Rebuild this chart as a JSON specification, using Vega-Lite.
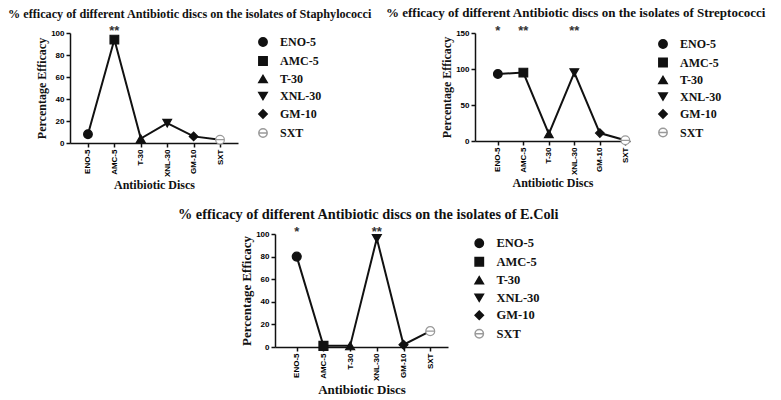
{
  "$schema": "https://vega.github.io/schema/vega-lite/v6.json",
  "padding": {"left": 8, "top": 7, "right": 5, "bottom": 5},
  "background": "white",
  "config": {
    "view": {"stroke": null},
    "axis": {
      "labelFont": "Liberation Sans", "labelFontWeight": "bold", "labelFontSize": 8, "labelColor": "#000",
      "titleFont": "Liberation Serif", "titleFontWeight": "bold", "titleFontSize": 12, "titleColor": "#111",
      "domainColor": "#111", "domainWidth": 1.5, "tickColor": "#111", "tickWidth": 1.5, "tickSize": 4,
      "grid": false, "labelPadding": 2
    },
    "axisY": {"labelOverlap": false, "labelBound": false, "labelFlush": false},
    "legend": {
      "labelFont": "Liberation Serif", "labelFontWeight": "bold", "labelFontSize": 12, "labelColor": "#111",
      "symbolSize": 70, "rowPadding": 3, "labelOffset": 11, "padding": 3, "orient": "right"
    },
    "title": {"font": "Liberation Serif", "fontWeight": "bold", "color": "#111", "anchor": "start", "frame": "group"}
  },
  "datasets": {
    "staph": [
      {"disc": "ENO-5", "efficacy": 8, "sig": null},
      {"disc": "AMC-5", "efficacy": 94, "sig": "**"},
      {"disc": "T-30", "efficacy": 4, "sig": null},
      {"disc": "XNL-30", "efficacy": 18, "sig": null},
      {"disc": "GM-10", "efficacy": 6, "sig": null},
      {"disc": "SXT", "efficacy": 3, "sig": null}
    ],
    "strep": [
      {"disc": "ENO-5", "efficacy": 93, "sig": "*"},
      {"disc": "AMC-5", "efficacy": 95, "sig": "**"},
      {"disc": "T-30", "efficacy": 10, "sig": null},
      {"disc": "XNL-30", "efficacy": 95, "sig": "**"},
      {"disc": "GM-10", "efficacy": 11, "sig": null},
      {"disc": "SXT", "efficacy": 1, "sig": null}
    ],
    "ecoli": [
      {"disc": "ENO-5", "efficacy": 80, "sig": "*"},
      {"disc": "AMC-5", "efficacy": 1, "sig": null},
      {"disc": "T-30", "efficacy": 1, "sig": null},
      {"disc": "XNL-30", "efficacy": 96, "sig": "**"},
      {"disc": "GM-10", "efficacy": 2, "sig": null},
      {"disc": "SXT", "efficacy": 14, "sig": null}
    ]
  },
  "vconcat": [
    {
      "hconcat": [
        {
          "width": 168, "height": 110,
          "data": {"name": "staph"},
          "title": {"text": "% efficacy of different Antibiotic discs on the isolates of Staphylococci", "dx": -62, "fontSize": 12.2, "offset": 5},
          "encoding": {
            "x": {"field": "disc", "type": "nominal", "sort": null,
              "scale": {"type": "point", "domain": ["ENO-5", "AMC-5", "T-30", "XNL-30", "GM-10", "SXT"], "padding": 0.68, "align": 0.5},
              "axis": {"title": "Antibiotic Discs", "labelAngle": -90, "titlePadding": 3}}
          },
          "layer": [
            {"mark": {"type": "line", "color": "#111", "strokeWidth": 2},
             "encoding": {
               "y": {"field": "efficacy", "type": "quantitative", "scale": {"domain": [0, 100], "nice": false},
                 "axis": {"title": "Percentage Efficacy", "values": [0, 20, 40, 60, 80, 100], "titlePadding": 2, "labelOverlap": false}},
               "order": {"value": null}}},
            {"mark": {"type": "point", "size": 75, "opacity": 1, "strokeWidth": 1.2},
             "encoding": {
               "y": {"field": "efficacy", "type": "quantitative", "axis": {"title": "Percentage Efficacy", "values": [0, 20, 40, 60, 80, 100], "titlePadding": 2, "labelOverlap": false}},
               "shape": {"field": "disc", "type": "nominal", "scale": {"domain": ["ENO-5", "AMC-5", "T-30", "XNL-30", "GM-10", "SXT"], "range": ["circle", "square", "triangle-up", "triangle-down", "diamond", "M-1,0A1,1,0,1,1,1,0A1,1,0,1,1,-1,0ZM-1,0L1,0"]}, "legend": {"title": null, "offset": 16, "rowPadding": 3}},
               "fill": {"field": "disc", "type": "nominal", "scale": {"domain": ["ENO-5", "AMC-5", "T-30", "XNL-30", "GM-10", "SXT"], "range": ["#111", "#111", "#111", "#111", "#111", "#ffffff"]}, "legend": {"title": null, "offset": 16, "rowPadding": 3}},
               "stroke": {"field": "disc", "type": "nominal", "scale": {"domain": ["ENO-5", "AMC-5", "T-30", "XNL-30", "GM-10", "SXT"], "range": ["#111", "#111", "#111", "#111", "#111", "#9a9a9a"]}, "legend": {"title": null, "offset": 16, "rowPadding": 3}}
             }},
            {"transform": [{"filter": "datum.sig != null"}],
             "mark": {"type": "text", "font": "Liberation Sans", "fontSize": 13, "fontWeight": "bold", "baseline": "middle", "color": "#333", "dy": -2},
             "encoding": {"y": {"datum": 100, "type": "quantitative", "axis": {"title": "Percentage Efficacy", "values": [0, 20, 40, 60, 80, 100], "titlePadding": 2, "labelOverlap": false}}, "text": {"field": "sig"}}}
          ]
        },
        {
          "width": 155, "height": 108,
          "data": {"name": "strep"},
          "title": {"text": "% efficacy of different Antibiotic discs on the isolates of Streptococci", "dx": -89, "fontSize": 13, "offset": 5},
          "encoding": {
            "x": {"field": "disc", "type": "nominal", "sort": null,
              "scale": {"type": "point", "domain": ["ENO-5", "AMC-5", "T-30", "XNL-30", "GM-10", "SXT"], "padding": 0.54, "align": 0.83},
              "axis": {"title": "Antibiotic Discs", "labelAngle": -90, "titlePadding": 3}}
          },
          "layer": [
            {"mark": {"type": "line", "color": "#111", "strokeWidth": 2},
             "encoding": {
               "y": {"field": "efficacy", "type": "quantitative", "scale": {"domain": [0, 150], "nice": false},
                 "axis": {"title": "Percentage Efficacy", "values": [0, 50, 100, 150], "titlePadding": 2, "labelOverlap": false}},
               "order": {"value": null}}},
            {"mark": {"type": "point", "size": 75, "opacity": 1, "strokeWidth": 1.2},
             "encoding": {
               "y": {"field": "efficacy", "type": "quantitative", "axis": {"title": "Percentage Efficacy", "values": [0, 50, 100, 150], "titlePadding": 2, "labelOverlap": false}},
               "shape": {"field": "disc", "type": "nominal", "scale": {"domain": ["ENO-5", "AMC-5", "T-30", "XNL-30", "GM-10", "SXT"], "range": ["circle", "square", "triangle-up", "triangle-down", "diamond", "M-1,0A1,1,0,1,1,1,0A1,1,0,1,1,-1,0ZM-1,0L1,0"]}, "legend": {"title": null, "offset": 22, "rowPadding": 2.5, "padding": 5}},
               "fill": {"field": "disc", "type": "nominal", "scale": {"domain": ["ENO-5", "AMC-5", "T-30", "XNL-30", "GM-10", "SXT"], "range": ["#111", "#111", "#111", "#111", "#111", "#ffffff"]}, "legend": {"title": null, "offset": 22, "rowPadding": 2.5, "padding": 5}},
               "stroke": {"field": "disc", "type": "nominal", "scale": {"domain": ["ENO-5", "AMC-5", "T-30", "XNL-30", "GM-10", "SXT"], "range": ["#111", "#111", "#111", "#111", "#111", "#9a9a9a"]}, "legend": {"title": null, "offset": 22, "rowPadding": 2.5, "padding": 5}}
             }},
            {"transform": [{"filter": "datum.sig != null"}],
             "mark": {"type": "text", "font": "Liberation Sans", "fontSize": 13, "fontWeight": "bold", "baseline": "middle", "color": "#333", "dy": -2},
             "encoding": {"y": {"datum": 150, "type": "quantitative", "axis": {"title": "Percentage Efficacy", "values": [0, 50, 100, 150], "titlePadding": 2, "labelOverlap": false}}, "text": {"field": "sig"}}}
          ]
        }
      ],
      "spacing": 237, "bounds": "flush", "align": "none",
      "resolve": {"scale": {"shape": "independent", "fill": "independent", "stroke": "independent"}, "legend": {"shape": "independent", "fill": "independent", "stroke": "independent"}}
    },
    {
      "hconcat": [
        {"width": 5, "height": 5, "data": {"values": []}, "mark": "point"},
        {
          "width": 173, "height": 113,
          "data": {"name": "ecoli"},
          "title": {"text": "% efficacy of different Antibiotic discs on the isolates of E.Coli", "dx": -97, "fontSize": 14.3, "offset": 4},
          "encoding": {
            "x": {"field": "disc", "type": "nominal", "sort": null,
              "scale": {"type": "point", "domain": ["ENO-5", "AMC-5", "T-30", "XNL-30", "GM-10", "SXT"], "padding": 0.74, "align": 0.55},
              "axis": {"title": "Antibiotic Discs", "labelAngle": -90, "titlePadding": 3, "titleFontSize": 13}}
          },
          "layer": [
            {"mark": {"type": "line", "color": "#111", "strokeWidth": 2},
             "encoding": {
               "y": {"field": "efficacy", "type": "quantitative", "scale": {"domain": [0, 100], "nice": false},
                 "axis": {"title": "Percentage Efficacy", "values": [0, 20, 40, 60, 80, 100], "titlePadding": 2, "titleFontSize": 13, "labelOverlap": false}},
               "order": {"value": null}}},
            {"mark": {"type": "point", "size": 80, "opacity": 1, "strokeWidth": 1.2},
             "encoding": {
               "y": {"field": "efficacy", "type": "quantitative", "axis": {"title": "Percentage Efficacy", "values": [0, 20, 40, 60, 80, 100], "titlePadding": 2, "titleFontSize": 13, "labelOverlap": false}},
               "shape": {"field": "disc", "type": "nominal", "scale": {"domain": ["ENO-5", "AMC-5", "T-30", "XNL-30", "GM-10", "SXT"], "range": ["circle", "square", "triangle-up", "triangle-down", "diamond", "M-1,0A1,1,0,1,1,1,0A1,1,0,1,1,-1,0ZM-1,0L1,0"]}, "legend": {"title": null, "offset": 22, "labelFontSize": 12.5, "rowPadding": 3.5}},
               "fill": {"field": "disc", "type": "nominal", "scale": {"domain": ["ENO-5", "AMC-5", "T-30", "XNL-30", "GM-10", "SXT"], "range": ["#111", "#111", "#111", "#111", "#111", "#ffffff"]}, "legend": {"title": null, "offset": 22, "labelFontSize": 12.5, "rowPadding": 3.5}},
               "stroke": {"field": "disc", "type": "nominal", "scale": {"domain": ["ENO-5", "AMC-5", "T-30", "XNL-30", "GM-10", "SXT"], "range": ["#111", "#111", "#111", "#111", "#111", "#9a9a9a"]}, "legend": {"title": null, "offset": 22, "labelFontSize": 12.5, "rowPadding": 3.5}}
             }},
            {"transform": [{"filter": "datum.sig != null"}],
             "mark": {"type": "text", "font": "Liberation Sans", "fontSize": 13, "fontWeight": "bold", "baseline": "middle", "color": "#333", "dy": -2},
             "encoding": {"y": {"datum": 100, "type": "quantitative", "axis": {"title": "Percentage Efficacy", "values": [0, 20, 40, 60, 80, 100], "titlePadding": 2, "titleFontSize": 13, "labelOverlap": false}}, "text": {"field": "sig"}}}
          ]
        }
      ],
      "spacing": 200, "bounds": "flush", "align": "none",
      "resolve": {"scale": {"shape": "independent", "fill": "independent", "stroke": "independent"}, "legend": {"shape": "independent", "fill": "independent", "stroke": "independent"}}
    }
  ],
  "spacing": 201, "bounds": "flush", "align": "none",
  "resolve": {"scale": {"shape": "independent", "fill": "independent", "stroke": "independent"}, "legend": {"shape": "independent", "fill": "independent", "stroke": "independent"}}
}
